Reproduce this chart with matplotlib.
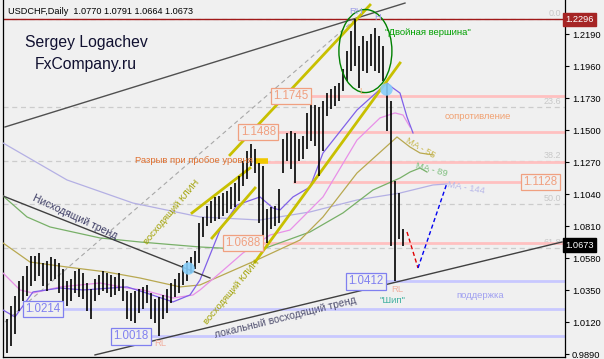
import numpy as np
import matplotlib; matplotlib.use("Agg")
import matplotlib.pyplot as plt
from matplotlib.patches import Ellipse

plt.rcParams["font.family"] = ["Liberation Sans", "DejaVu Sans"]

# daily bars, bar index 0..100 (high / low)
HIGH = [1.0090, 1.0141, 1.0234, 1.0306, 1.0414, 1.0450, 1.0522, 1.0594, 1.0594, 1.0615,
        1.0543, 1.0558, 1.0586, 1.0572, 1.0543, 1.0500, 1.0414, 1.0428, 1.0486, 1.0500,
        1.0471, 1.0399, 1.0356, 1.0428, 1.0457, 1.0486, 1.0471, 1.0457, 1.0443, 1.0471,
        1.0428, 1.0342, 1.0328, 1.0342, 1.0356, 1.0371, 1.0385, 1.0328, 1.0284, 1.0299,
        1.0313, 1.0356, 1.0399, 1.0428, 1.0471, 1.0529, 1.0558, 1.0586, 1.0630, 1.0831,
        1.0874, 1.0953, 1.0989, 1.1018, 1.1025, 1.1047, 1.1061, 1.1090, 1.1118, 1.1169,
        1.1277, 1.1349, 1.1399, 1.1363, 1.1262, 1.1241, 1.0932, 1.0946, 1.0953, 1.1075,
        1.1435, 1.1478, 1.1492, 1.1478, 1.1435, 1.1456, 1.1622, 1.1708, 1.1679, 1.1665,
        1.1708, 1.1765, 1.1794, 1.1816, 1.1837, 1.1938, 1.2067, 1.2211, 1.2296, 1.2103,
        1.2175, 1.2139, 1.2190, 1.2233, 1.2175, 1.2103, 1.1830, 1.1708, 1.1133, 1.1047,
        1.0791]
LOW = [0.9875, 0.9896, 0.9946, 1.0035, 1.0198, 1.0270, 1.0306, 1.0378, 1.0414, 1.0450,
       1.0378, 1.0342, 1.0414, 1.0428, 1.0328, 1.0256, 1.0234, 1.0270, 1.0328, 1.0299,
       1.0284, 1.0198, 1.0141, 1.0270, 1.0313, 1.0342, 1.0328, 1.0299, 1.0313, 1.0342,
       1.0270, 1.0141, 1.0126, 1.0112, 1.0184, 1.0213, 1.0256, 1.0141, 1.0112, 1.0018,
       1.0141, 1.0184, 1.0256, 1.0299, 1.0328, 1.0385, 1.0414, 1.0471, 1.0500, 1.0543,
       1.0730, 1.0809, 1.0831, 1.0845, 1.0860, 1.0881, 1.0903, 1.0932, 1.0946, 1.0989,
       1.1097, 1.1147, 1.1241, 1.1190, 1.0831, 1.0701, 1.0688, 1.0788, 1.0809, 1.0831,
       1.1190, 1.1277, 1.1219, 1.1118, 1.1277, 1.1291, 1.1363, 1.1420, 1.1384, 1.1169,
       1.1349, 1.1600, 1.1650, 1.1672, 1.1708, 1.1780, 1.1852, 1.1924, 1.1960, 1.1801,
       1.1924, 1.1909, 1.1960, 1.1924, 1.1909, 1.1852, 1.1492, 1.0665, 1.0412, 1.0716,
       1.0664]

# moving averages: (bar index, price)
MA_FAST_X = [0, 3, 7.5, 14.25, 20, 31, 35, 42.5, 46.75, 49.25, 51.75, 54.25, 58.5, 64.25, 67.5, 69.25, 72.5, 76.75, 80, 88.5, 96, 97.5, 99.25, 101, 102.5]
MA_FAST_Y = [1.0207, 1.0157, 1.0337, 1.0365, 1.0351, 1.0373, 1.0337, 1.0265, 1.0315, 1.0423, 1.0603, 1.0782, 1.0962, 1.1020, 1.0940, 1.0926, 1.1020, 1.1091, 1.1336, 1.1645, 1.1839, 1.1803, 1.1767, 1.1595, 1.1480]
MA_34_X = [0, 4.25, 7.5, 14.25, 24.25, 31, 35, 42.5, 47.5, 49.25, 54.25, 60, 66.75, 71.75, 80, 88.5, 94.25, 98, 100, 101.75]
MA_34_Y = [1.0473, 1.0351, 1.0329, 1.0373, 1.0401, 1.0365, 1.0351, 1.0293, 1.0315, 1.0351, 1.0473, 1.0617, 1.0746, 1.0782, 1.1020, 1.1429, 1.1588, 1.1624, 1.1609, 1.1523]
MA_55_X = [0, 6.75, 16, 26, 34.25, 44.25, 49.25, 63.5, 74.25, 80, 88.5, 98.5, 101.75, 104.25, 107.5]
MA_55_Y = [1.0689, 1.0552, 1.0516, 1.0480, 1.0437, 1.0373, 1.0387, 1.0567, 1.0710, 1.0876, 1.1192, 1.1451, 1.1379, 1.1336, 1.1322]
MA_89_X = [0, 6, 11.75, 24.25, 34.25, 49.25, 64.25, 76.75, 85, 92.5, 99.25, 101.75, 104.25, 106]
MA_89_Y = [1.1027, 1.0876, 1.0804, 1.0725, 1.0696, 1.0660, 1.0638, 1.0768, 1.0905, 1.1070, 1.1156, 1.1199, 1.1228, 1.1199]
MA_144_X = [0, 16, 32.5, 49.25, 64.25, 76.75, 88.5, 99.25, 107.5, 111]
MA_144_Y = [1.1408, 1.1142, 1.0976, 1.0876, 1.0854, 1.0912, 1.0998, 1.1048, 1.1106, 1.1113]

# drawn objects: (bar index, price) anchor pairs
UPPER_LINE = ([0.5, 100.5], [1.1523, 1.2414])
DOWN_TREND = ([0, 51.75], [1.1027, 1.0437])
LOCAL_UP = ([23, 139.75], [0.9884, 1.0696])
FIBO_DIAG = ([-19, 88], [0.9636, 1.2296])
WEDGE1_UP = ([47.25, 61.75], [1.0905, 1.1228])
WEDGE1_LO = ([52.25, 63], [1.0725, 1.1084])
WEDGE2_LO = ([63, 99.25], [1.0552, 1.1983])
WEDGE2_UP = ([56.75, 91.75], [1.1322, 1.2400])
PROJ_RED = ([101, 103.75], [1.0768, 1.0509])
PROJ_BLUE = ([103.75, 111], [1.0509, 1.1120])

FIB_LEVELS = [1.2296, 1.1668, 1.1280, 1.0966, 1.0652]
FIB_NAMES = ["0.0", "23.6", "38.2", "50.0", "61.8"]

RES_PRICE = [1.1745, 1.1488, 1.1270, 1.1128, 1.0688]
RES_START = [76.75, 68.5, 63, 72.5, 64.75]
RES_END = [140.5, 140.5, 140.5, 129.75, 140.5]
RES_LABEL = ["1.1745", "1.1488", None, "1.1128", "1.0688"]

SUP_PRICE = [1.0412, 1.0214, 1.0018]
SUP_START = [95.5, 14.75, 36.75]

YTICKS = [1.2190, 1.1960, 1.1730, 1.1500, 1.1270, 1.1040, 1.0810, 1.0580, 1.0350, 1.0120, 0.9890]
LAST = 1.0673
TOP_PRICE = 1.2296

BG = "#f0f0f0"
PINK = "#ffc0c0"
SALMON = "#f0a080"
LAV = "#c8c8ff"
LAVTXT = "#8080f0"
OLIVE_Y = "#c8c000"

fig = plt.figure(figsize=(6.04, 3.59), dpi=100, facecolor=BG)
ax = fig.add_axes([3 / 604, 2 / 359, 562 / 604, 357 / 359], facecolor=BG)
ax.set_xlim(0, 140.5)
ax.set_ylim(0.9869, 1.2436)

# fibo levels
for lv, nm in zip(FIB_LEVELS, FIB_NAMES):
    ax.axhline(lv, color="#cccccc", lw=0.9, ls=(0, (4, 3)), zorder=1)
    ax.text(139.5, lv + 0.0008, nm, color="#c8c8c8", fontsize=6.5, ha="right", va="bottom", zorder=2)
ax.plot(*FIBO_DIAG, color="#a8a8a8", lw=0.8, ls=(0, (4, 3)), zorder=1)

# resistance / support levels
for p, s, e, lab in zip(RES_PRICE, RES_START, RES_END, RES_LABEL):
    ax.plot([s, e], [p, p], color=PINK, lw=2, solid_capstyle="butt", zorder=2)
    if lab is None:
        continue
    if e < 140:
        ax.text(e + 0.3, p, lab, color=SALMON, fontsize=8.3, ha="left", va="center", zorder=6,
                bbox=dict(boxstyle="square,pad=0.2", fc=BG, ec=SALMON, lw=0.9))
    else:
        ax.text(s - 0.3, p, lab, color=SALMON, fontsize=8.3, ha="right", va="center", zorder=6,
                bbox=dict(boxstyle="square,pad=0.2", fc=BG, ec=SALMON, lw=0.9))
for p, s in zip(SUP_PRICE, SUP_START):
    ax.plot([s, 140.5], [p, p], color=LAV, lw=2, solid_capstyle="butt", zorder=2)
    ax.text(s - 0.3, p, f"{p:.4f}", color=LAVTXT, fontsize=8.3, ha="right", va="center", zorder=6,
            bbox=dict(boxstyle="square,pad=0.2", fc=BG, ec=LAVTXT, lw=0.9))

ax.axhline(TOP_PRICE, color="#a01818", lw=1, zorder=2)

# moving averages
ax.plot(MA_144_X, MA_144_Y, color="#b4b0e4", lw=0.9, zorder=3)
ax.plot(MA_89_X, MA_89_Y, color="#78b068", lw=0.9, zorder=3)
ax.plot(MA_55_X, MA_55_Y, color="#b8a850", lw=0.9, zorder=3)
ax.plot(MA_34_X, MA_34_Y, color="#e890e8", lw=0.9, zorder=3)
ax.plot(MA_FAST_X, MA_FAST_Y, color="#8060e8", lw=0.9, zorder=3)

# trend lines
ax.plot(*UPPER_LINE, color="#505050", lw=1, zorder=3)
ax.plot(*DOWN_TREND, color="#404040", lw=1, zorder=3)
ax.plot(*LOCAL_UP, color="#404040", lw=1, zorder=3)
for w in (WEDGE1_UP, WEDGE1_LO, WEDGE2_LO, WEDGE2_UP):
    ax.plot(*w, color=OLIVE_Y, lw=2, zorder=4)
ax.plot([63, 66.25], [1.1279, 1.1279], color="#f0c800", lw=4, solid_capstyle="butt", zorder=5)
ax.plot(*PROJ_RED, color="#e00000", lw=1, ls=(0, (3, 2)), zorder=4)
ax.plot(*PROJ_BLUE, color="#0000f0", lw=1, ls=(0, (3, 2)), zorder=4)

# bars
idx = np.arange(len(HIGH))
ax.vlines(idx, LOW, HIGH, color="black", lw=1.2, zorder=5)

# markers
ax.scatter([46.25, 95.75], [1.0509, 1.1796], s=80, color="#87cefa", alpha=0.9, lw=0, zorder=6)
ax.add_patch(Ellipse((90.6, 1.2069), 13.25, 0.0597, fill=False, ec="#008000", lw=1, zorder=6))

# annotations
txt = dict(fontsize=6.8, zorder=7)
ax.text(62.5, 1.1279, "Разрыв при пробое уровня", color="#e07030", ha="right", va="center", **txt)
ax.text(95.5, 1.2199, "\"Двойная вершина\"", color="#00a000", ha="left", va="center", **txt)
ax.text(118.75, 1.1595, "сопротивление", color="#f0a070", ha="center", va="center", **txt)
ax.text(119.25, 1.0308, "поддержка", color="#a0a0f0", ha="center", va="center", **txt)
ax.text(18, 1.0876, "Нисходящий тренд", color="#3c3c64", ha="center", va="center", rotation=-25, fontsize=7.5, zorder=7)
ax.text(70.5, 1.0150, "локальный восходящий тренд", color="#505070", ha="center", va="center", rotation=14, fontsize=7.5, zorder=7)
ax.text(42.25, 1.0912, "восходящий КЛИН", color="#a0a000", ha="center", va="center", rotation=50, **txt)
ax.text(57.25, 1.0337, "восходящий КЛИН", color="#a0a000", ha="center", va="center", rotation=50, **txt)
ax.text(88.25, 1.2350, "RH", color="#a0a0e8", ha="center", va="center", **txt)
ax.text(93.75, 1.2307, "H", color="#a0a0e8", ha="center", va="center", **txt)
ax.text(89.75, 1.1775, "L", color="#f0b080", ha="center", va="center", **txt)
ax.text(39.25, 0.9963, "RL", color="#f0b0a0", ha="center", va="center", **txt)
ax.text(98.5, 1.0351, "RL", color="#f0b0a0", ha="center", va="center", **txt)
ax.text(97.25, 1.0272, "\"Шип\"", color="#40b0a0", ha="center", va="center", **txt)
ax.text(104.25, 1.1372, "MA - 55", color="#c8b850", ha="center", va="center", rotation=-30, **txt)
ax.text(107, 1.1214, "MA - 89", color="#80c080", ha="center", va="center", rotation=-15, **txt)
ax.text(115.75, 1.1084, "MA - 144", color="#b8b8e8", ha="center", va="center", rotation=-10, **txt)

fig.text(8 / 604, 1 - 11 / 359, "USDCHF,Daily  1.0770 1.0791 1.0664 1.0673", fontsize=6.6, va="center", ha="left")
fig.text(25 / 604, 1 - 43 / 359, "Sergey Logachev", fontsize=11.3, color="#101030", va="center", ha="left")
fig.text(35 / 604, 1 - 64 / 359, "FxCompany.ru", fontsize=11.3, color="#101030", va="center", ha="left")

# right price axis
ax.yaxis.tick_right()
ax.set_yticks(YTICKS)
ax.set_yticklabels([f"{t:.4f}" for t in YTICKS])
ax.tick_params(axis="y", labelsize=6.7, length=3, width=0.8, pad=2)
ax.set_xticks([])
ax.spines["top"].set_visible(False)
for s in ("left", "right", "bottom"):
    ax.spines[s].set_linewidth(0.9)
yt = ax.get_yaxis_transform()
ax.text(1.0, TOP_PRICE, f"{TOP_PRICE:.4f}", transform=yt, color="white", fontsize=6.7, ha="left", va="center",
        clip_on=False, bbox=dict(boxstyle="square,pad=0.25", fc="#a52424", ec="#a52424"), zorder=8)
ax.text(1.0, LAST, f"{LAST:.4f}", transform=yt, color="white", fontsize=6.7, ha="left", va="center",
        clip_on=False, bbox=dict(boxstyle="square,pad=0.25", fc="black", ec="black"), zorder=8)

fig.savefig("out.png", dpi=100, facecolor=BG)
